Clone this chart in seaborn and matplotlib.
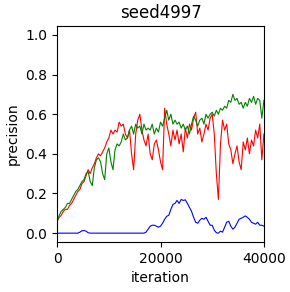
import numpy as np
import pandas as pd
import matplotlib
matplotlib.use('Agg')
import matplotlib.pyplot as plt
import seaborn as sns

# iterations, one sample every 400
iterations = np.arange(0, 40001, 400)

red_precision = [
    0.06, 0.08, 0.09, 0.11, 0.12, 0.12, 0.14, 0.15, 0.17, 0.19,
    0.21, 0.22, 0.25, 0.26, 0.29, 0.32, 0.30, 0.33, 0.35, 0.38,
    0.40, 0.39, 0.41, 0.43, 0.46, 0.48, 0.52, 0.50, 0.52, 0.51,
    0.56, 0.54, 0.55, 0.50, 0.48, 0.52, 0.40, 0.32, 0.50, 0.57,
    0.60, 0.52, 0.47, 0.44, 0.50, 0.40, 0.37, 0.45, 0.47, 0.42,
    0.36, 0.32, 0.63, 0.55, 0.50, 0.44, 0.52, 0.47, 0.52, 0.45,
    0.50, 0.41, 0.53, 0.48, 0.55, 0.52, 0.58, 0.61, 0.50, 0.53,
    0.46, 0.50, 0.55, 0.52, 0.58, 0.60, 0.50, 0.30, 0.17, 0.45,
    0.57, 0.52, 0.55, 0.45, 0.42, 0.35, 0.40, 0.44, 0.36, 0.32,
    0.46, 0.42, 0.48, 0.40, 0.47, 0.44, 0.52, 0.48, 0.55, 0.37,
    0.50,
]

green_precision = [
    0.06, 0.09, 0.11, 0.12, 0.13, 0.15, 0.15, 0.17, 0.19, 0.21,
    0.22, 0.24, 0.26, 0.27, 0.30, 0.31, 0.26, 0.24, 0.33, 0.37,
    0.38, 0.36, 0.30, 0.27, 0.40, 0.43, 0.36, 0.32, 0.42, 0.45,
    0.44, 0.46, 0.50, 0.47, 0.48, 0.52, 0.54, 0.50, 0.55, 0.53,
    0.54, 0.50, 0.55, 0.52, 0.53, 0.52, 0.55, 0.50, 0.53, 0.51,
    0.56, 0.54, 0.58, 0.62, 0.57, 0.60, 0.55, 0.57, 0.55, 0.56,
    0.53, 0.55, 0.52, 0.54, 0.50, 0.55, 0.59, 0.57, 0.54, 0.57,
    0.58, 0.55, 0.60, 0.58, 0.60, 0.61, 0.59, 0.62, 0.60, 0.63,
    0.62, 0.64, 0.63, 0.67, 0.66, 0.70, 0.67, 0.68, 0.65, 0.66,
    0.63, 0.66, 0.64, 0.68, 0.66, 0.69, 0.65, 0.68, 0.67, 0.58,
    0.67,
]

blue_precision = [
    0.0, 0.0, 0.0, 0.0, 0.0, 0.0, 0.0, 0.0, 0.0, 0.0,
    0.0, 0.005, 0.012, 0.013, 0.01, 0.002, 0.0, 0.0, 0.0, 0.0,
    0.0, 0.0, 0.0, 0.0, 0.0, 0.0, 0.0, 0.0, 0.0, 0.0,
    0.0, 0.0, 0.0, 0.0, 0.0, 0.0, 0.0, 0.0, 0.0, 0.0,
    0.0, 0.0, 0.0, 0.005, 0.02, 0.035, 0.04, 0.04, 0.035, 0.03,
    0.035, 0.05, 0.07, 0.085, 0.09, 0.12, 0.145, 0.15, 0.165, 0.15,
    0.17, 0.165, 0.168, 0.15, 0.13, 0.11, 0.08, 0.055, 0.05, 0.065,
    0.075, 0.07, 0.08, 0.06, 0.04, 0.04, 0.015, 0.002, 0.0, 0.01,
    0.005, 0.03, 0.055, 0.06, 0.035, 0.02, 0.03, 0.05, 0.07, 0.075,
    0.08, 0.087, 0.08, 0.07, 0.055, 0.05, 0.045, 0.055, 0.04, 0.04,
    0.035,
]

df = pd.DataFrame({
    'iteration': iterations,
    'red': red_precision,
    'green': green_precision,
    'blue': blue_precision,
})

fig = plt.figure(figsize=(2.9, 2.92), dpi=100)
ax = fig.add_axes([0.197, 0.171, 0.713, 0.74])

for col in ['red', 'green', 'blue']:
    sns.lineplot(data=df, x='iteration', y=col, ax=ax, color=col, linewidth=0.8)

ax.set_xlim(0, 40000)
ax.set_ylim(-0.045, 1.045)
ax.set_xticks([0, 20000, 40000])
ax.set_yticks([0.0, 0.2, 0.4, 0.6, 0.8, 1.0])
ax.set_xlabel('iteration')
ax.set_ylabel('precision')
ax.set_title('seed4997')

fig.savefig('out.png', dpi=100)
